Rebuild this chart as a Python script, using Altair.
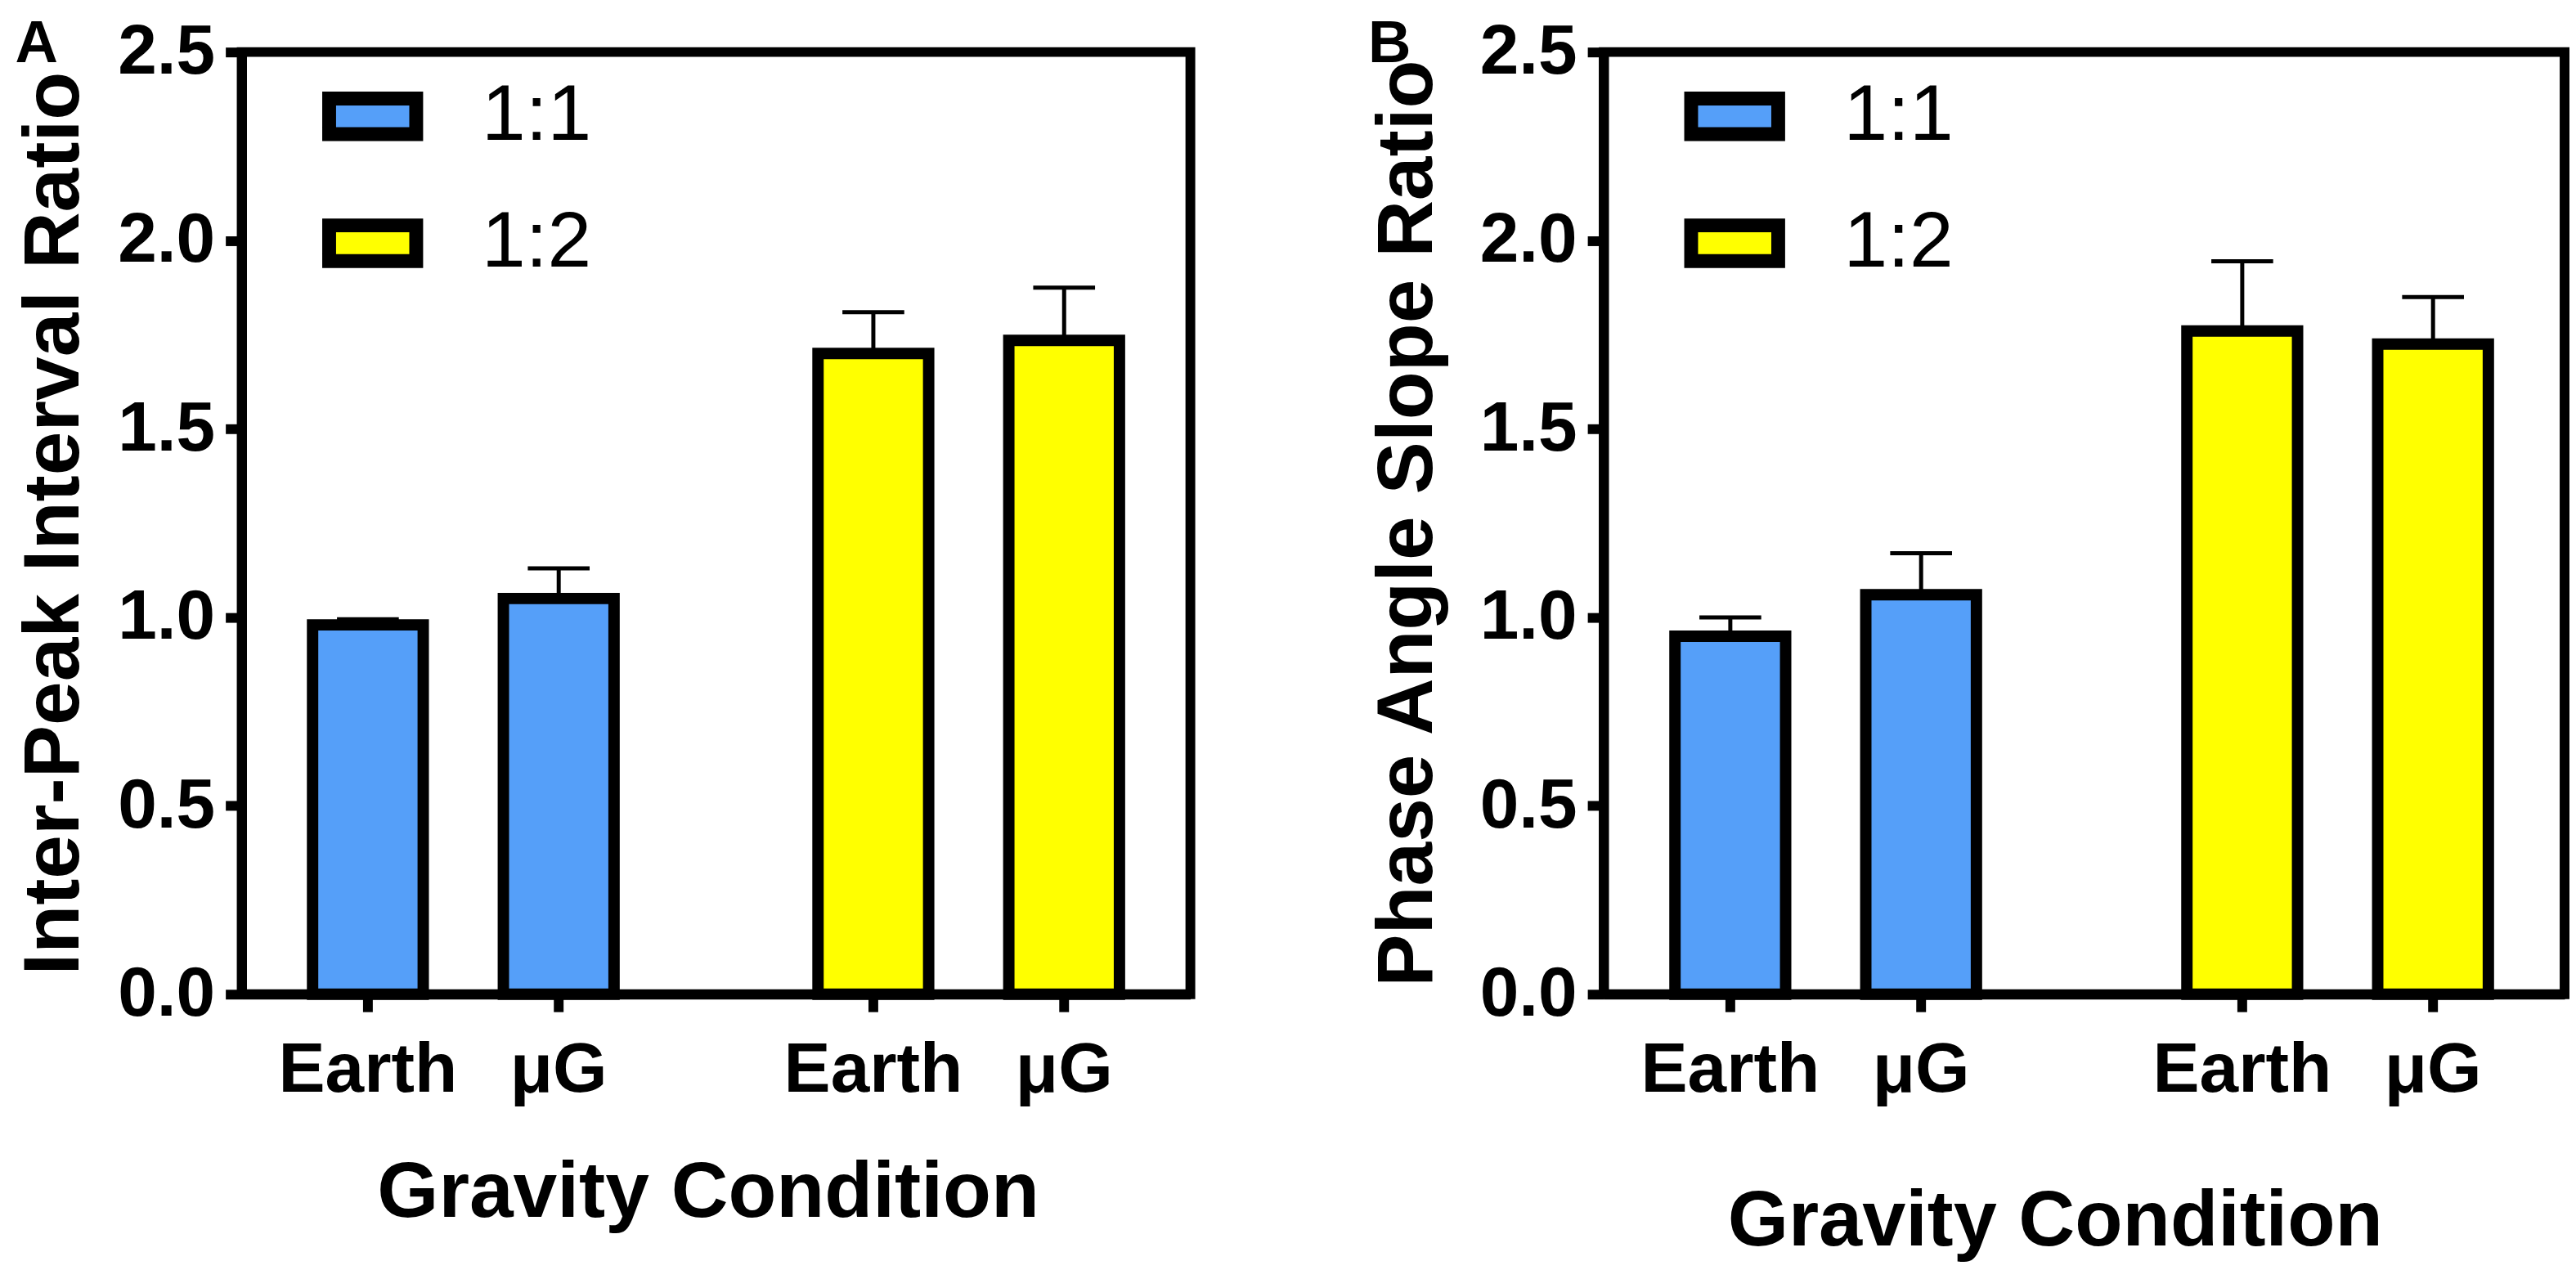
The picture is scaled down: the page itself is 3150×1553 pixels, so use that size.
import altair as alt
import pandas as pd

# ---- data ----
ratios = ["1:1", "1:1", "1:2", "1:2"]
gravity = ["Earth", "μG", "Earth", "μG"]
ipi_mean = [0.98, 1.05, 1.70, 1.735]
ipi_err = [0.015, 0.08, 0.11, 0.14]
pas_mean = [0.95, 1.06, 1.76, 1.725]
pas_err = [0.05, 0.11, 0.185, 0.125]

ratio_domain = ["1:1", "1:2"]
ratio_colors = ["#559FF9", "#FFFF00"]
gravity_order = ["Earth", "μG"]
y_ticks = [0.0, 0.5, 1.0, 1.5, 2.0, 2.5]

FONT = "Liberation Sans"
H = 1158


def panel(mean, err, ytitle, letter, width, bar_pad, ytitle_size, ytitle_pad,
          xtitle_size, xtitle_pad, xtitle_shift):
    df = pd.DataFrame({
        "ratio": ratios,
        "gravity": gravity,
        "mean": mean,
        "top": [m + e for m, e in zip(mean, err)],
    })
    base = alt.Chart(df)
    x = alt.X("ratio:N", sort=ratio_domain,
              scale=alt.Scale(paddingInner=0.245, paddingOuter=0.061),
              axis=alt.Axis(labels=False, ticks=False, domain=True,
                            domainColor="black", domainWidth=12,
                            title="Gravity Condition", titleFont=FONT,
                            titleFontSize=xtitle_size, titleFontWeight="bold",
                            titleColor="black", titlePadding=xtitle_pad,
                            titleX=width / 2 + xtitle_shift))
    xo = alt.XOffset("gravity:N", sort=gravity_order,
                     scale=alt.Scale(paddingInner=bar_pad,
                                     paddingOuter=bar_pad / 2))
    yaxis = alt.Axis(values=y_ticks, format=".1f", grid=False,
                     labelFont=FONT, labelFontSize=86, labelFontWeight="bold",
                     labelColor="black", labelPadding=13,
                     tickSize=20, tickWidth=12, tickColor="black",
                     domainColor="black", domainWidth=12,
                     title=ytitle, titleFont=FONT, titleFontSize=ytitle_size,
                     titleFontWeight="bold", titleColor="black",
                     titlePadding=ytitle_pad)
    y = alt.Y("mean:Q", scale=alt.Scale(domain=[0, 2.5], nice=False), axis=yaxis)

    err_rule = base.mark_rule(color="black", strokeWidth=5).encode(
        x=x, xOffset=xo, y=y, y2="top:Q")
    err_cap = base.mark_tick(color="black", size=76, thickness=5, opacity=1).encode(
        x=x, xOffset=xo, y="top:Q")
    bars = base.mark_bar(stroke="black", strokeWidth=14, opacity=1).encode(
        x=x, xOffset=xo, y=y,
        fill=alt.Fill("ratio:N", sort=ratio_domain,
                      scale=alt.Scale(domain=ratio_domain, range=ratio_colors),
                      legend=alt.Legend(
                          orient="none", legendX=99, legendY=17, title=None,
                          padding=0, rowPadding=38, labelOffset=72,
                          symbolType="M-1,-0.41H1V0.41H-1Z", symbolSize=11449,
                          symbolStrokeColor="black", symbolStrokeWidth=17,
                          symbolOpacity=1,
                          labelFont=FONT, labelFontSize=97,
                          labelFontWeight="normal", labelColor="black")))
    ticks = base.mark_rule(color="black", strokeWidth=12).encode(
        x=x, xOffset=xo, y=alt.value(H), y2=alt.value(H + 22))
    labels = base.mark_text(font=FONT, fontSize=86, fontWeight="bold",
                            color="black", baseline="alphabetic").encode(
        x=x, xOffset=xo, y=alt.value(H + 120), text="gravity:N")

    return alt.layer(err_rule, err_cap, bars, ticks, labels).properties(
        width=width, height=H,
        title=alt.TitleParams(text=letter, anchor="start", frame="bounds",
                              font=FONT, fontSize=73, fontWeight="bold",
                              color="black", offset=-70))


a = panel(ipi_mean, ipi_err, "Inter-Peak Interval Ratio", "A", 1166, 0.42,
          97, 28, 97, 196, -10)
b = panel(pas_mean, pas_err, "Phase Angle Slope Ratio", "B", 1181, 0.39,
          97, 39, 96, 232, -36)

chart = alt.hconcat(a, b, spacing=206).resolve_scale(
    fill="independent").configure_view(
    stroke="black", strokeWidth=12).properties(
    padding={"left": 4, "top": 0, "right": 0, "bottom": 0},
    background="white")

chart.save("out.html", embed_options={"renderer": "svg", "actions": False})
